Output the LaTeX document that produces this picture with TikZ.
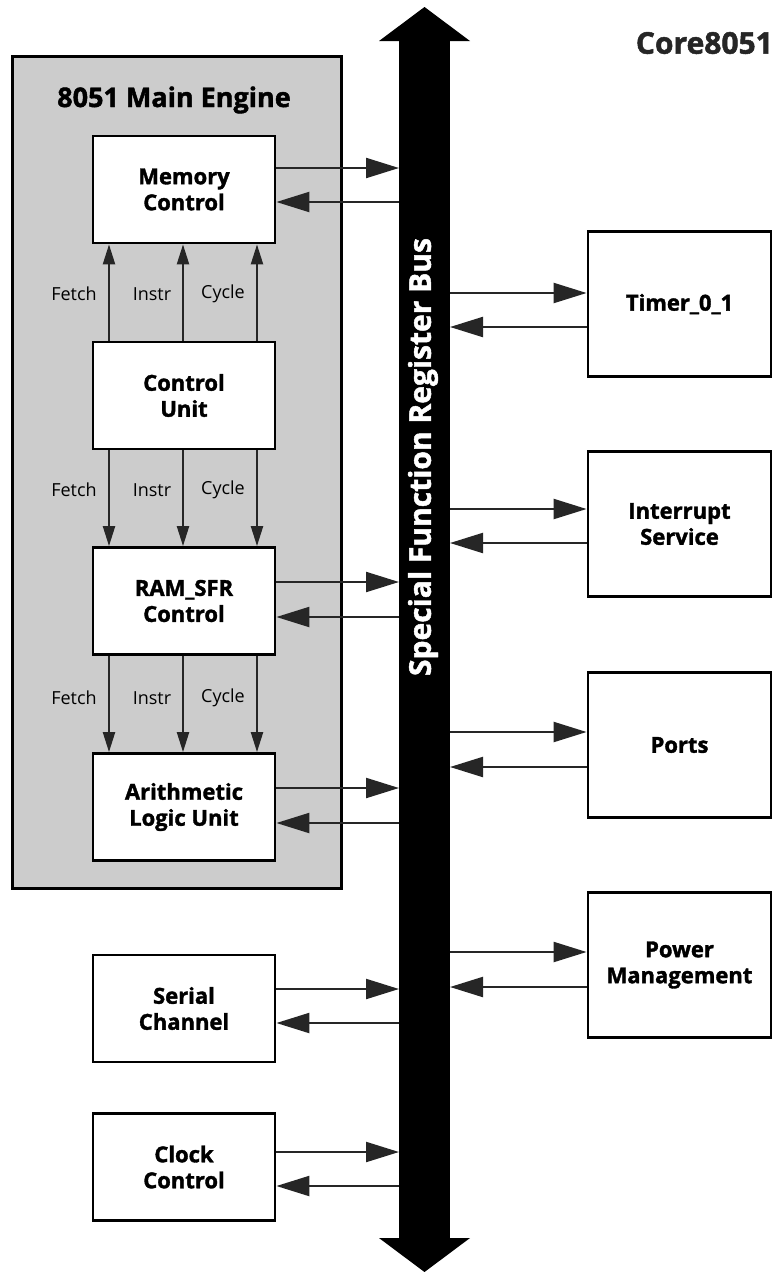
\documentclass[tikz,border=0pt]{standalone}
\usepackage{fontspec}
\setmainfont{Open Sans}[BoldFeatures={FakeBold=1.6}]
\usetikzlibrary{arrows.meta,calc}

\definecolor{enginegray}{HTML}{CCCCCC}
\definecolor{wire}{HTML}{262626}

\begin{document}
\begin{tikzpicture}[x=1pt,y=-1pt,
  block/.style={draw=black, line width=2.8pt, fill=white, inner sep=0pt,
    align=center, font=\bfseries\fontsize{22}{26}\selectfont},
  leftblock/.style={block, minimum width=182pt, minimum height=107pt},
  rightblock/.style={block, minimum width=183pt, minimum height=145pt},
  sig/.style={inner sep=0pt, font=\fontsize{18}{20}\selectfont},
  conn/.style={draw=wire, line width=2.2pt,
    -{Triangle[length=33pt,width=20pt]}},
  vconn/.style={draw=wire, line width=2.2pt,
    -{Triangle[length=20pt,width=12pt]}}]

\useasboundingbox (0,0) rectangle (777,1272);

% 8051 main engine frame
\node[draw=black, line width=2.8pt, fill=enginegray, inner sep=0pt,
      minimum width=329pt, minimum height=832pt] (engine) at (177,472.5) {};
\node[inner sep=0pt, font=\bfseries\fontsize{27}{30}\selectfont] (title) at (174,100) {8051 Main Engine};

% product name
\node[inner sep=0pt, anchor=east, text=black!85,
      font=\bfseries\fontsize{30}{32}\selectfont] (core) at (773,43) {Core8051};

% special function register bus
\node[fill=black, inner sep=0pt, outer sep=0pt,
      minimum width=51pt, minimum height=1197pt] (bus) at (424.5,639.5) {};
\fill[black] ($(bus.north west)+(-20,0)$) -- ($(bus.north east)+(20,0)$)
  -- ($(bus.north)+(0,-34)$) -- cycle;
\fill[black] ($(bus.south west)+(-20,0)$) -- ($(bus.south east)+(20,0)$)
  -- ($(bus.south)+(0,34)$) -- cycle;
\node[rotate=90, inner sep=0pt, text=white,
      font=\bfseries\fontsize{30}{30}\selectfont] (buslbl) at (423,457)
  {Special Function Register Bus};

% engine blocks
\node[leftblock] (mem)  at (184,189.5) {Memory\\Control};
\node[leftblock] (ctrl) at (184,395.5) {Control\\Unit};
\node[leftblock] (ram)  at (184,601)   {RAM\_SFR\\Control};
\node[leftblock] (alu)  at (184,807)   {Arithmetic\\Logic Unit};

% blocks outside the engine
\node[leftblock] (ser) at (184,1008.5) {Serial\\Channel};
\node[leftblock] (clk) at (184,1167)   {Clock\\Control};

\node[rightblock] (tmr)  at (679.5,304) {Timer\_0\_1};
\node[rightblock] (intr) at (679.5,524) {Interrupt\\Service};
\node[rightblock] (prt)  at (679.5,745) {Ports};
\node[rightblock] (pwr)  at (679.5,965) {Power\\Management};

% control signals inside the engine
\foreach \x in {109,183,257} {
  \draw[vconn] (ctrl.north -| \x,0) -- (mem.south -| \x,0);
  \draw[vconn] (ctrl.south -| \x,0) -- (ram.north -| \x,0);
  \draw[vconn] (ram.south -| \x,0) -- (alu.north -| \x,0);
}
\foreach \row/\y in {a/294,b/490,c/698} {
  \node[sig] (fetch\row) at (74,\y)  {Fetch};
  \node[sig] (instr\row) at (152,\y) {Instr};
  \node[sig] (cycle\row) at (223,\y) {Cycle};
}

% left blocks <-> bus
\foreach \n/\o/\i in {mem/168/202, ram/582/617, alu/788/823,
                      ser/989/1023, clk/1152/1186} {
  \draw[conn] (\n.east |- 0,\o) -- (bus.west |- 0,\o);
  \draw[conn] (bus.west |- 0,\i) -- (\n.east |- 0,\i);
}

% bus <-> right blocks
\foreach \n/\o/\i in {tmr/293/327, intr/509/543, prt/732/767, pwr/952/987} {
  \draw[conn] (bus.east |- 0,\o) -- (\n.west |- 0,\o);
  \draw[conn] (\n.west |- 0,\i) -- (bus.east |- 0,\i);
}
\end{tikzpicture}
\end{document}
